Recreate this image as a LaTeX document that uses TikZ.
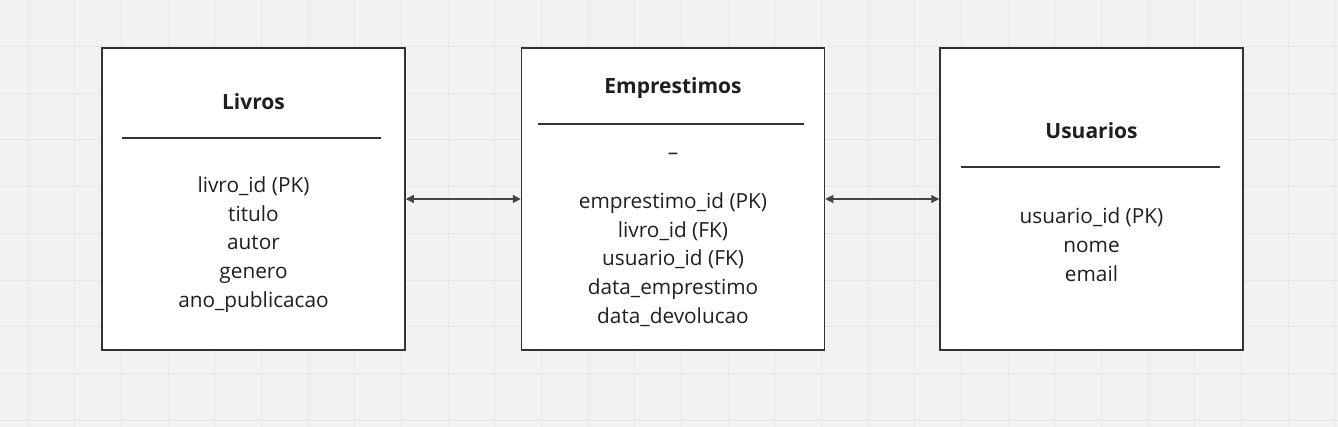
\documentclass[tikz,border=0pt]{standalone}
\usepackage{fontspec}
\setmainfont{Open Sans}
\usetikzlibrary{arrows.meta}
\definecolor{bgc}{HTML}{F2F2F2}
\definecolor{gridc}{HTML}{E6E6E6}
\definecolor{boxc}{HTML}{333333}
\definecolor{txtc}{HTML}{1F1F1F}
\definecolor{arrc}{HTML}{444444}
\begin{document}
\begin{tikzpicture}[x=1pt,y=-1pt,
  tbl/.style={draw=boxc, line width=1.5pt, fill=white, minimum width=303pt, minimum height=302pt, inner sep=0pt},
  ttl/.style={text=txtc, font=\fontsize{21}{24}\selectfont\bfseries, inner sep=0pt},
  body/.style={text=txtc, font=\fontsize{20.8}{28.8}\selectfont, align=center, inner sep=0pt},
  hrule/.style={draw=boxc, line width=1.3pt},
  conn/.style={draw=arrc, line width=1.2pt, {Triangle[length=8pt,width=8pt]}-{Triangle[length=8pt,width=8pt]}}
]
\useasboundingbox (0,0) rectangle (1338,427);
\fill[bgc] (0,0) rectangle (1338,427);
\foreach \k in {0,...,28} {\draw[gridc, line width=1pt] ({28+\k*46.667},0) -- ({28+\k*46.667},427);}
\foreach \k in {0,...,9} {\draw[gridc, line width=1pt] (0,{\k*46.667}) -- (1338,{\k*46.667});}

% Livros
\node[tbl] (liv) at (253.5,199) {};
\node[ttl] (livt) at (253.5,102) {Livros};
\coordinate (livr1) at (122,138);
\coordinate (livr2) at (381,138);
\draw[hrule] (livr1) -- (livr2);
\node[body] (livb) at (253.5,244.5) {livro\_id (PK)\\titulo\\autor\\genero\\ano\_publicacao};

% Emprestimos
\node[tbl] (emp) at (673,199) {};
\node[ttl] (empt) at (673,88) {Emprestimos};
\coordinate (empr1) at (538,124);
\coordinate (empr2) at (804,124);
\draw[hrule] (empr1) -- (empr2);
\node[body] (empd) at (673,156.5) {–};
\node[body] (empb) at (673,259.5) {emprestimo\_id (PK)\\livro\_id (FK)\\usuario\_id (FK)\\data\_emprestimo\\data\_devolucao};

% Usuarios
\node[tbl] (usu) at (1091.5,199) {};
\node[ttl] (usut) at (1091.5,131) {Usuarios};
\coordinate (usur1) at (961,167);
\coordinate (usur2) at (1220,167);
\draw[hrule] (usur1) -- (usur2);
\node[body] (usub) at (1091.5,244.5) {usuario\_id (PK)\\nome\\email};

\draw[conn] (liv.east) -- (emp.west);
\draw[conn] (emp.east) -- (usu.west);
\end{tikzpicture}
\end{document}
